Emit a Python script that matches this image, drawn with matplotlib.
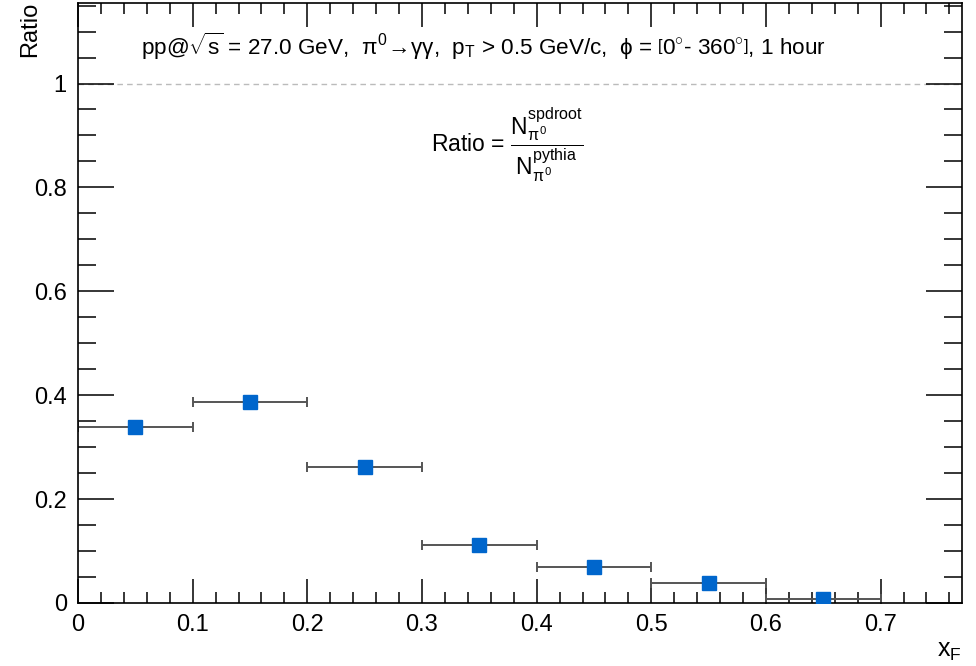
import matplotlib
matplotlib.use('Agg')
import matplotlib.pyplot as plt
from matplotlib.ticker import MultipleLocator

plt.rcParams['font.family'] = ['Liberation Sans', 'DejaVu Sans']
plt.rcParams['mathtext.fontset'] = 'custom'
plt.rcParams['mathtext.rm'] = 'Liberation Sans'
plt.rcParams['mathtext.it'] = 'Liberation Sans'
plt.rcParams['mathtext.sf'] = 'Liberation Sans'

# bin centres, half widths and ratio values
xf = [0.05, 0.15, 0.25, 0.35, 0.45, 0.55, 0.65]
xf_err = [0.05, 0.05, 0.05, 0.05, 0.05, 0.05, 0.05]
ratio = [0.338, 0.387, 0.262, 0.112, 0.069, 0.038, 0.008]

fig = plt.figure(figsize=(9.76, 6.66), dpi=100)
ax = fig.add_axes([0.0799, 0.0946, 0.9058, 0.9009])

ax.axhline(1.0, color='#bbbbbb', lw=1, ls=(0, (4, 3)), zorder=1)
ax.errorbar(xf, ratio, xerr=xf_err, fmt='none', ecolor='#555555', elinewidth=1.4,
            capsize=3.5, capthick=1.4, zorder=2)
ax.plot(xf, ratio, 's', color='#0066cc', markersize=9.5, zorder=3)

ax.set_xlim(0, 0.771)
ax.set_ylim(0, 1.155)

ax.xaxis.set_minor_locator(MultipleLocator(0.02))
ax.yaxis.set_minor_locator(MultipleLocator(0.05))
ax.set_xticks([0, 0.1, 0.2, 0.3, 0.4, 0.5, 0.6, 0.7])
ax.set_xticklabels(['0', '0.1', '0.2', '0.3', '0.4', '0.5', '0.6', '0.7'])
ax.set_yticks([0, 0.2, 0.4, 0.6, 0.8, 1.0])
ax.set_yticklabels(['0', '0.2', '0.4', '0.6', '0.8', '1'])

ax.tick_params(which='both', direction='in', top=True, right=True, labelsize=17,
               width=1.1, color='black')
ax.tick_params(axis='x', which='major', length=17, pad=8)
ax.tick_params(axis='x', which='minor', length=8)
ax.tick_params(axis='y', which='major', length=26, pad=8)
ax.tick_params(axis='y', which='minor', length=13)
for s in ax.spines.values():
    s.set_linewidth(1.2)

fig.text(0.031, 0.997, 'Ratio', rotation=90, ha='center', va='top', fontsize=17)
fig.text(0.973, 0.005, r'x$_\mathrm{F}$', ha='center', va='bottom', fontsize=18)

ax.text(0.458, 0.927,
        r'pp@$\sqrt{s}$ = 27.0 GeV,  $\pi^0\!\rightarrow\!\gamma\gamma$,  p$_\mathrm{T}$ > 0.5 GeV/c,  '
        r'$\phi$ = $\left[0^{\circ}\text{- } 360^{\circ}\right]$, 1 hour',
        transform=ax.transAxes, ha='center', va='center', fontsize=16.2)
ax.text(0.485, 0.763, r'Ratio = $\dfrac{\mathrm{N}^{spdroot}_{\pi^0}}{\mathrm{N}^{pythia}_{\pi^0}}$',
        transform=ax.transAxes, ha='center', va='center', fontsize=16.5)

fig.savefig('out.png', dpi=100)
